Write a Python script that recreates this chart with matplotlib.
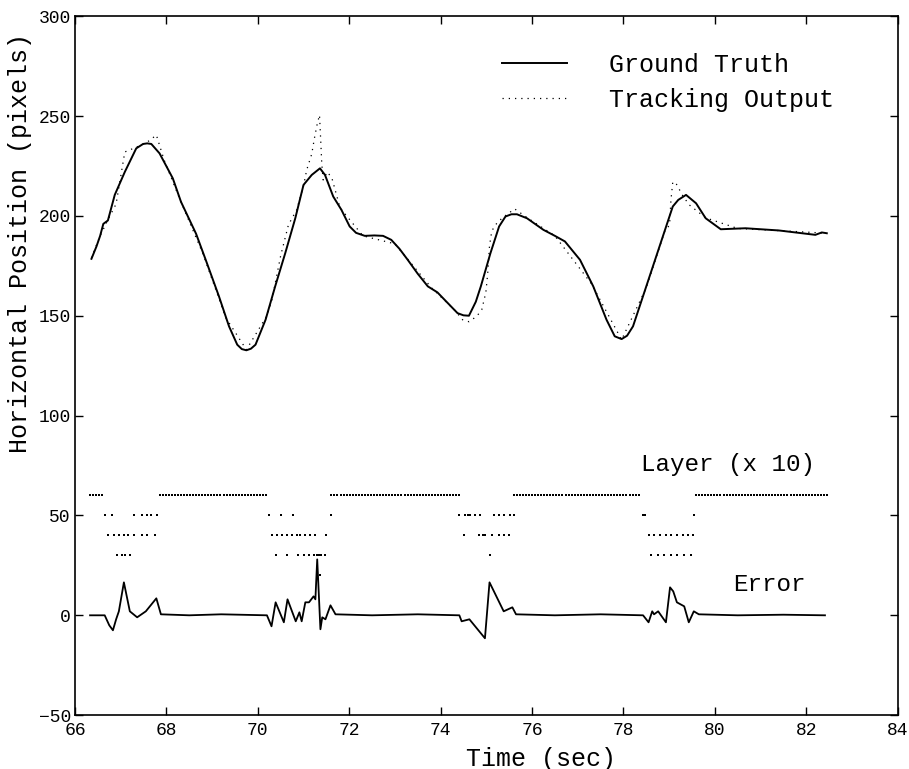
import numpy as np
import matplotlib.pyplot as plt

plt.rcParams['font.family'] = ['Liberation Mono', 'DejaVu Sans Mono']

# ground truth horizontal position (pixels) vs time (sec)
gt_t = [66.36, 66.47, 66.55, 66.62, 66.72, 66.87, 67.09, 67.34, 67.49, 67.58,
        67.67, 67.85, 68.14, 68.32, 68.65, 68.86, 69.15, 69.37, 69.55, 69.65,
        69.75, 69.85, 69.95, 70.17, 70.38, 70.6, 70.82, 71.0, 71.18, 71.36,
        71.47, 71.65, 71.83, 72.01, 72.15, 72.34, 72.55, 72.74, 72.92, 73.1,
        73.28, 73.5, 73.72, 73.93, 74.15, 74.37, 74.5, 74.62, 74.77, 74.88,
        75.09, 75.28, 75.42, 75.55, 75.67, 75.89, 76.25, 76.5, 76.72, 77.05,
        77.34, 77.63, 77.81, 77.96, 78.08, 78.21, 78.5, 78.79, 79.08, 79.2,
        79.37, 79.59, 79.8, 80.13, 80.67, 81.4, 82.2, 82.34, 82.45]
gt_y = [178.5, 184.7, 190, 196, 197.7, 210.5, 222, 233.8, 236, 236.3,
        236, 231.3, 218.8, 207, 191, 178, 159.7, 144.7, 135.5, 133.3,
        132.7, 133.5, 135.5, 148, 164.7, 181.3, 198.8, 215.5, 220.5, 223.8,
        220.5, 209.7, 203, 194.7, 191.5, 190, 190.2, 190, 188, 183.5,
        178, 171, 164.7, 161.7, 156.5, 151.3, 150.2, 150, 157, 164.7,
        181.3, 194.7, 199.7, 200.8, 200.8, 198.8, 193, 190, 187.2, 178,
        164.7, 148, 139.7, 138.3, 140, 144.7, 164.7, 184.7, 204.7, 208,
        210.5, 206.3, 198.8, 193.3, 193.8, 192.7, 190.5, 191.7, 191.3]

# tracker output
trk_t = [66.36, 66.55, 66.72, 66.9, 67.09, 67.3, 67.5, 67.63, 67.78, 67.95,
         68.3, 68.8, 69.3, 69.75, 70.2, 70.31, 70.5, 70.67, 70.85, 71.0,
         71.07, 71.18, 71.24, 71.3, 71.35, 71.37, 71.4, 71.43, 71.52, 71.62,
         71.8, 72.3, 73.0, 73.8, 74.3, 74.48, 74.62, 74.79, 74.9, 74.99,
         75.03, 75.07, 75.12, 75.22, 75.35, 75.62, 75.9, 76.5, 77.3, 77.96,
         78.5, 78.9, 79.01, 79.04, 79.08, 79.15, 79.3, 79.44, 79.8, 80.5,
         81.5, 82.45]
trk_y = [179, 190, 198, 206, 232, 234, 236, 237.7, 240.5, 228,
         208, 181, 149, 133, 150, 158, 180, 195.5, 203, 215,
         223, 231, 239, 246, 250.5, 241, 226, 218, 222, 219,
         204, 190, 186, 164, 153, 148, 147, 149.7, 153, 161.7,
         171, 185, 192.5, 196, 199, 203.5, 199, 190, 166, 138,
         164, 192, 195.5, 208, 217, 216.3, 210, 205.5, 199, 193.7,
         192.5, 191.3]

# tracking error
err_t = [66.33, 66.65, 66.75, 66.83, 66.9, 66.96, 67.07, 67.2, 67.36, 67.55,
         67.78, 67.88, 68.5, 69.2, 70.2, 70.3, 70.39, 70.57, 70.65, 70.83,
         70.91, 70.96, 71.04, 71.12, 71.22, 71.26, 71.3, 71.37, 71.41, 71.48,
         71.59, 71.7, 72.5, 73.5, 74.41, 74.46, 74.63, 74.97, 75.07, 75.38,
         75.57, 75.65, 76.5, 77.5, 78.43, 78.55, 78.63, 78.67, 78.76, 78.93,
         79.02, 79.09, 79.17, 79.33, 79.43, 79.54, 79.65, 80.5, 81.5, 82.41]
err_y = [0, 0, -5, -7.5, -2, 2, 16.5, 2, -1, 2,
         8.5, 0.5, 0, 0.5, 0, -5.5, 6.5, -3.5, 8, -3,
         1.5, -3, 6.5, 6.5, 9.5, 8, 28, -7, -1, -2,
         5, 0.5, 0, 0.5, 0, -3, -2, -11.5, 16.5, 2,
         4, 0.5, 0, 0.5, 0, -3.5, 2, 0.5, 2, -3.5,
         14, 12, 6.5, 4.5, -3.5, 2, 0.5, 0, 0.3, 0]

# active layer per frame; layer 6 held over long runs (start, end)
frame_rate = 15
l6_runs = [(66.33, 66.61), (67.85, 70.22), (71.61, 74.43), (75.6, 78.39), (79.59, 82.48)]
l5_t = [66.65, 66.8, 67.3, 67.46, 67.57, 67.67, 67.8, 70.24, 70.5, 70.78, 71.6,
        74.41, 74.54, 74.61, 74.65, 74.76, 74.87, 75.17, 75.28, 75.39, 75.52, 75.61,
        78.43, 78.47, 79.54]
l4_t = [66.72, 66.85, 66.96, 67.07, 67.17, 67.3, 67.46, 67.57, 67.74,
        70.3, 70.41, 70.52, 70.63, 70.74, 70.85, 70.93, 71.04, 71.15, 71.26, 71.5,
        74.52, 74.85, 74.92, 74.97, 75.13, 75.28, 75.39, 75.5,
        78.57, 78.67, 78.8, 78.93, 79.04, 79.17, 79.3, 79.41, 79.52]
l3_t = [66.91, 67.02, 67.09, 67.2,
        70.39, 70.63, 70.89, 71.0, 71.11, 71.22, 71.3, 71.33, 71.36, 71.39, 71.48,
        75.07, 78.6, 78.76, 78.89, 79.04, 79.17, 79.33, 79.48]
l2_t = [71.36]
layer_scale = 10

l6_t = np.concatenate([np.arange(a, b + 1e-6, 1.0 / frame_rate) for a, b in l6_runs])

fig = plt.figure(figsize=(9.09, 7.69), dpi=100)
ax = fig.add_axes([0.0825, 0.070, 0.905, 0.909])

ax.plot(gt_t, gt_y, color='black', linewidth=1.4, label='Ground Truth')
ax.plot(trk_t, trk_y, color='black', linewidth=0.9, linestyle=(0, (1, 4)),
        label='Tracking Output')
ax.plot(err_t, err_y, color='black', linewidth=1.3)

for tt, lay in [(l6_t, 6), (l5_t, 5), (l4_t, 4), (l3_t, 3), (l2_t, 2)]:
    ax.plot(tt, np.full(len(tt), lay * layer_scale), 's', color='black',
            markersize=1.6, markeredgewidth=0)

ax.text(80.28, 75.5, 'Layer (x 10)', fontsize=17.5, ha='center', va='center')
ax.text(81.2, 15.5, 'Error', fontsize=17.5, ha='center', va='center')

ax.set_xlim(66, 84)
ax.set_ylim(-50, 300)
ax.set_xticks(np.arange(66, 85, 2))
ax.set_yticks(np.arange(-50, 301, 50))
ax.tick_params(direction='in', length=6, width=1, top=True, right=True,
               labelsize=13)
ax.tick_params(axis='x', pad=5)
ax.tick_params(axis='y', pad=3)
for s in ax.spines.values():
    s.set_linewidth(1.2)

ax.set_xlabel('Time (sec)', fontsize=18)
ax.set_ylabel('Horizontal Position (pixels)', fontsize=18)
ax.xaxis.set_label_coords(0.567, -0.045)
ax.yaxis.set_label_coords(-0.052, 0.675)

ax.legend(loc='upper right', bbox_to_anchor=(0.95, 0.98), frameon=False,
          fontsize=18, handlelength=2.6, handletextpad=1.7, labelspacing=0.45)

fig.savefig('out.png', dpi=100)
